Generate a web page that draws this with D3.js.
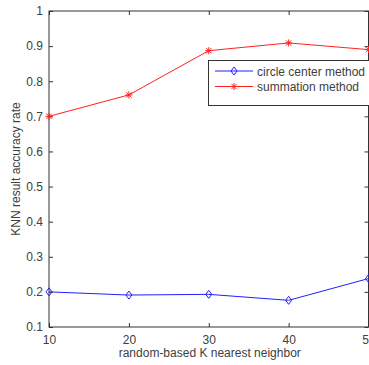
<!DOCTYPE html>
<html><head><meta charset="utf-8">
<script src="https://cdn.jsdelivr.net/npm/d3@7"></script>
<style>body{margin:0;background:#fff;overflow:hidden}svg{display:block}text{font-family:Arial,"Liberation Sans",sans-serif}</style>
</head><body><svg id="c" width="369" height="365"></svg>
<script>
const kValues = [10, 20, 30, 40, 50];
const circleCenter = [0.200, 0.191, 0.193, 0.176, 0.238];
const summation = [0.700, 0.761, 0.887, 0.909, 0.890];
const yTicks = [0.1, 0.2, 0.3, 0.4, 0.5, 0.6, 0.7, 0.8, 0.9, 1];
const xTicks = [10, 20, 30, 40, 50];
const seriesNames = ["circle center method", "summation method"];

const svg = d3.select("#c");
const L = 49, R = 368.5, T = 11, B = 327;
const x = d3.scaleLinear().domain([10, 50]).range([L, R]);
const y = d3.scaleLinear().domain([0.1, 1]).range([B, T]);
const axisColor = "#333";
const txtColor = "#404040";

// box
svg.append("rect").attr("x", L).attr("y", T).attr("width", R - L).attr("height", B - T)
  .attr("fill", "none").attr("stroke", axisColor).attr("stroke-width", 1);

// ticks
const tl = 4;
const gx = svg.append("g").attr("transform", `translate(0,${B})`)
  .call(d3.axisBottom(x).tickValues(xTicks).tickSizeInner(-tl).tickSizeOuter(0).tickPadding(8).tickFormat(d3.format("d")));
const gy = svg.append("g").attr("transform", `translate(${L},0)`)
  .call(d3.axisLeft(y).tickValues(yTicks).tickSizeInner(-tl).tickSizeOuter(0).tickPadding(6).tickFormat(d => d === 1 ? "1" : d3.format(".1f")(d)));
const gxt = svg.append("g").attr("transform", `translate(0,${T})`)
  .call(d3.axisTop(x).tickValues(xTicks).tickSizeInner(-tl).tickSizeOuter(0).tickFormat(""));
const gyr = svg.append("g").attr("transform", `translate(${R},0)`)
  .call(d3.axisRight(y).tickValues(yTicks).tickSizeInner(-tl).tickSizeOuter(0).tickFormat(""));
[gx, gy, gxt, gyr].forEach(g => {
  g.select(".domain").remove();
  g.selectAll("line").attr("stroke", axisColor);
  g.selectAll("text").attr("fill", txtColor).style("font-size", "12px").style("font-family", "Arial, 'Liberation Sans', sans-serif");
});

// axis labels
svg.append("text").attr("x", (L + R) / 2 + 1).attr("y", 357).attr("text-anchor", "middle")
  .attr("fill", txtColor).style("font-size", "12px").text("random-based K nearest neighbor");
svg.append("text").attr("transform", `translate(20,${(T + B) / 2}) rotate(-90)`).attr("text-anchor", "middle")
  .attr("fill", txtColor).style("font-size", "12px").text("KNN result accuracy rate");

const line = d3.line().x((d, i) => x(kValues[i])).y(d => y(d));
const blue = "#2020ff", red = "#ff2020";

function diamond(g, cx, cy, color) {
  g.append("path").attr("d", `M${cx},${cy - 4}L${cx + 3},${cy}L${cx},${cy + 4}L${cx - 3},${cy}Z`)
    .attr("fill", "none").attr("stroke", color).attr("stroke-width", 1);
}
function star(g, cx, cy, color) {
  const s = 3.5;
  g.append("path").attr("d", `M${cx - s},${cy}H${cx + s}M${cx},${cy - s}V${cy + s}M${cx - s * 0.75},${cy - s * 0.75}L${cx + s * 0.75},${cy + s * 0.75}M${cx - s * 0.75},${cy + s * 0.75}L${cx + s * 0.75},${cy - s * 0.75}`)
    .attr("stroke", color).attr("stroke-width", 1);
}

const gBlue = svg.append("g");
gBlue.append("path").datum(circleCenter).attr("d", line).attr("fill", "none").attr("stroke", blue).attr("stroke-width", 1);
circleCenter.forEach((v, i) => diamond(gBlue, x(kValues[i]), y(v), blue));
const gRed = svg.append("g");
gRed.append("path").datum(summation).attr("d", line).attr("fill", "none").attr("stroke", red).attr("stroke-width", 1);
summation.forEach((v, i) => star(gRed, x(kValues[i]), y(v), red));

// legend
const lg = svg.append("g");
lg.append("rect").attr("x", 208.5).attr("y", 60.5).attr("width", 170).attr("height", 45)
  .attr("fill", "#fff").attr("stroke", axisColor).attr("stroke-width", 1);
const rows = [{ y: 71, c: blue, m: diamond }, { y: 86.5, c: red, m: star }];
rows.forEach((r, i) => {
  lg.append("line").attr("x1", 215).attr("x2", 253).attr("y1", r.y).attr("y2", r.y).attr("stroke", r.c);
  r.m(lg, 234, r.y, r.c);
  lg.append("text").attr("x", 257).attr("y", r.y + 4.5).attr("fill", txtColor).style("font-size", "12px").text(seriesNames[i]);
});
</script></body></html>
